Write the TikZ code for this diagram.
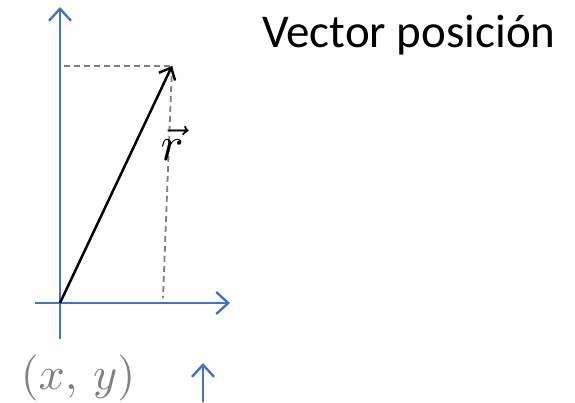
\documentclass[tikz,border=0pt]{standalone}
\usepackage{graphicx}
\usepackage{fontspec}
\newfontfamily\calibri{Carlito}
\usetikzlibrary{arrows.meta}
\definecolor{axisblue}{RGB}{68,114,196}
\definecolor{dashgray}{RGB}{128,128,128}
\tikzset{
  axis/.style={draw=axisblue, line width=2.6pt, -{Straight Barb[length=12pt,width=22pt,line width=2.4pt]}},
  vec/.style={draw=black, line width=2.5pt, -{Straight Barb[length=10pt,width=18pt,line width=2.4pt]}},
  guide/.style={draw=dashgray, line width=1.8pt, dash pattern=on 6pt off 4pt},
}
\begin{document}
\begin{tikzpicture}[x=1pt,y=-1pt]
\useasboundingbox (0,0) rectangle (575,402);
\coordinate (O) at (60,303);
\coordinate (ybot) at (60,339);
\coordinate (ytop) at (60,7);
\coordinate (xleft) at (35,303);
\coordinate (xright) at (230,303);
\coordinate (P) at (172,66);
\coordinate (dl) at (64,66);
\coordinate (db) at (163,298);
\coordinate (sb) at (203,402);
\coordinate (st) at (203,363);
\draw[axis] (ybot) -- (ytop);
\draw[axis] (xleft) -- (xright);
\draw[guide] (dl) -- (P);
\draw[guide] (P) -- (db);
\draw[vec] (O) -- (P);
\draw[axis] (sb) -- (st);
\node[inner sep=0pt] (r) at (172,143) {\scalebox{4.8}{$\vec{r}$}};
\node[text=dashgray, inner sep=0pt] (xy) at (78,378) {\scalebox{4.6}{$(x,\,y)$}};
\node[font=\calibri\fontsize{47}{50}\selectfont, anchor=base west, inner sep=0pt] (title) at (262,47) {Vector posición};
\end{tikzpicture}
\end{document}
